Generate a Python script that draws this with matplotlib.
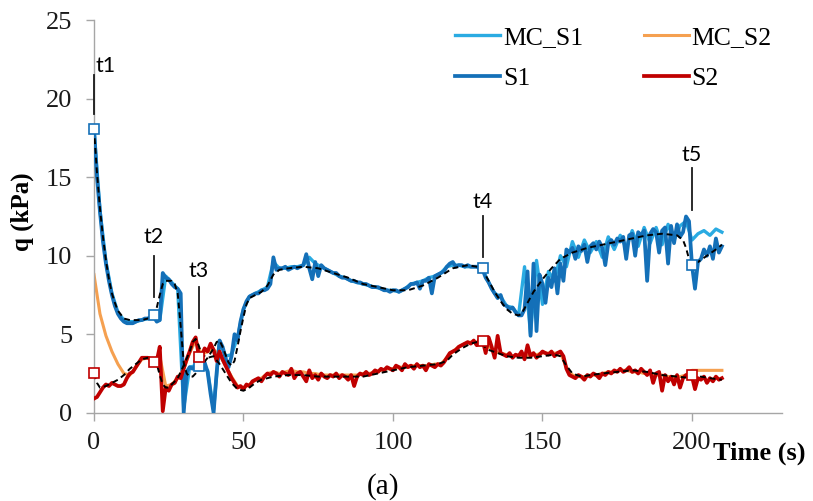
import numpy as np
import matplotlib
matplotlib.use("Agg")
import matplotlib.pyplot as plt

# ----------------------------------------------------
# Data
# ----------------------------------------------------

# measured signals, one value per second, 0 ... 210 s
time_s = np.arange(0, 211)

s1 = [
    18.1, 15.0, 12.8, 10.9, 9.5, 8.4, 7.5, 6.8, 6.3, 6.0,
    5.8, 5.7, 5.7, 5.7, 5.8, 5.9, 5.9, 6.0, 6.0, 6.1,
    6.1, 5.8, 5.9, 8.9, 8.6, 8.5, 8.2, 8.0, 7.9, 7.6,
    0.0, 2.6, 2.9, 2.8, 3.0, 3.0, 2.8, 3.2, 2.6, 1.2,
    0.0, 2.5, 4.6, 4.2, 3.5, 2.9, 3.6, 5.0, 4.6, 5.8,
    6.6, 7.1, 7.4, 7.5, 7.6, 7.6, 7.8, 7.8, 7.9, 8.2,
    9.9, 9.1, 9.2, 9.2, 9.3, 9.1, 9.2, 9.3, 9.2, 9.3,
    9.4, 10.1, 9.2, 8.5, 9.6, 8.7, 9.4, 9.2, 9.1, 9.0,
    8.9, 8.9, 8.7, 8.6, 8.6, 8.5, 8.4, 8.4, 8.3, 8.3,
    8.2, 8.2, 8.1, 8.0, 8.0, 8.0, 7.9, 7.8, 7.8, 7.7,
    7.8, 7.8, 7.7, 7.8, 7.9, 8.0, 8.2, 8.2, 8.3, 7.9,
    8.4, 8.4, 8.6, 7.6, 8.7, 8.8, 8.9, 9.0, 9.3, 9.5,
    9.6, 9.3, 9.4, 9.4, 9.3, 9.4, 9.3, 9.3, 9.3, 9.2,
    9.1, 8.6, 8.3, 7.9, 7.6, 7.3, 7.5, 6.9, 6.8, 6.6,
    6.7, 6.4, 6.2, 6.2, 6.6, 9.0, 4.9, 9.5, 5.2, 8.8,
    8.2, 7.0, 8.6, 8.0, 9.2, 7.6, 9.5, 8.4, 10.4, 10.2,
    10.5, 9.8, 10.6, 10.3, 10.7, 9.6, 10.6, 10.8, 10.4, 10.9,
    10.5, 9.4, 10.8, 11.0, 10.7, 11.1, 10.9, 11.2, 9.8, 11.3,
    11.4, 10.0, 11.5, 11.3, 11.6, 8.4, 11.4, 11.7, 11.5, 10.2,
    11.6, 11.8, 9.5, 11.9, 10.8, 12.0, 11.2, 11.5, 12.5, 12.2,
    9.4, 7.9, 9.6, 9.8, 10.4, 10.0, 10.6, 9.8, 11.1, 10.2,
    10.6,
]

s2 = [
    0.9, 1.0, 1.3, 1.6, 1.8, 1.7, 1.9, 1.8, 1.7, 1.7,
    1.8, 2.2, 2.5, 2.6, 2.9, 3.2, 3.5, 3.5, 3.5, 3.4,
    3.4, 3.3, 4.2, 0.1, 1.6, 1.4, 1.8, 1.9, 2.3, 2.2,
    2.8, 3.4, 3.9, 4.5, 4.8, 3.7, 3.6, 4.1, 3.9, 4.4,
    4.0, 3.3, 3.9, 3.4, 3.0, 2.6, 2.2, 1.9, 1.6, 1.7,
    1.5, 1.8, 1.7, 2.0, 2.1, 2.2, 2.0, 2.3, 2.5, 2.4,
    2.6, 2.5, 2.3, 2.6, 2.5, 2.4, 2.8, 2.2, 2.5, 2.6,
    2.3, 2.0, 2.7, 2.2, 2.4, 2.1, 2.5, 2.3, 2.2, 2.4,
    2.3, 2.5, 2.2, 2.4, 2.3, 2.1, 2.4, 1.7, 2.3, 2.5,
    2.4, 2.6, 2.4, 2.5, 2.7, 2.6, 2.8, 2.7, 2.9, 2.8,
    2.7, 3.0, 2.9, 2.7, 3.1, 2.9, 3.0, 2.8, 3.1, 2.9,
    3.0, 2.7, 3.1, 3.0, 2.9, 3.1, 3.0, 3.2, 3.5, 3.8,
    3.9, 4.0, 4.2, 4.3, 4.4, 4.5, 4.4, 4.6, 4.3, 4.7,
    4.6, 3.8, 4.8, 4.2, 3.5, 4.9, 3.8, 3.7, 3.6, 3.8,
    3.5, 3.7, 3.6, 3.9, 3.4, 4.3, 3.6, 3.8, 3.5, 3.7,
    3.9, 3.8, 3.7, 3.9, 3.6, 3.8, 3.9, 3.6, 2.8, 2.4,
    2.3, 2.2, 2.4, 2.3, 2.1, 2.4, 2.3, 2.5, 2.4, 2.2,
    2.5, 2.4, 2.6, 2.5, 2.7, 2.6, 2.8, 2.6, 2.7, 2.9,
    2.6, 2.7, 2.5, 2.8, 2.6, 2.4, 2.7, 1.9, 2.5, 2.6,
    1.4, 2.4, 2.0, 2.3, 1.8, 2.4, 1.6, 2.2, 2.4, 2.3,
    2.3, 1.5, 2.2, 2.1, 2.3, 1.9, 2.2, 2.0, 2.3, 2.1,
    2.2,
]

# model curves, every 2 s
time_mc = np.arange(0, 211, 2)

mc_s1 = [
    18.1, 12.9, 9.6, 7.6, 6.4, 5.9, 5.8, 5.8, 5.9, 6.0,
    6.1, 5.9, 8.7, 8.3, 7.9, 0.3, 2.9, 3.0, 2.9, 2.7,
    0.2, 4.5, 3.6, 3.7, 4.8, 6.6, 7.4, 7.6, 7.8, 8.0,
    9.6, 9.2, 9.2, 9.3, 9.3, 9.4, 9.9, 9.5, 9.3, 9.1,
    8.9, 8.7, 8.6, 8.4, 8.3, 8.2, 8.1, 8.0, 7.9, 7.8,
    7.8, 7.7, 7.9, 8.2, 8.3, 8.4, 8.6, 8.7, 8.9, 9.3,
    9.4, 9.4, 9.3, 9.3, 9.3, 9.1, 8.3, 7.6, 7.4, 6.8,
    6.7, 6.2, 9.3, 5.0, 9.7, 6.9, 9.0, 8.4, 10.0, 9.3,
    10.9, 9.9, 11.0, 10.2, 10.9, 9.9, 11.2, 10.4, 11.3, 10.5,
    11.6, 10.6, 11.8, 10.8, 11.8, 10.7, 12.0, 11.0, 11.9, 12.2,
    11.0, 11.4, 11.6, 11.3, 11.7, 11.5,
]

mc_s2 = [
    8.8, 6.3, 4.9, 3.9, 3.1, 2.5, 2.4, 2.9, 3.4, 3.5,
    3.4, 3.6, 1.7, 1.8, 2.2, 2.8, 3.8, 4.6, 3.7, 3.9,
    4.0, 3.7, 3.0, 2.3, 1.7, 1.6, 1.8, 2.1, 2.2, 2.5,
    2.6, 2.5, 2.6, 2.7, 2.6, 2.6, 2.5, 2.5, 2.4, 2.4,
    2.4, 2.4, 2.4, 2.4, 2.4, 2.5, 2.5, 2.6, 2.7, 2.8,
    2.8, 2.9, 2.9, 3.0, 3.0, 3.0, 3.0, 3.1, 3.1, 3.5,
    3.9, 4.2, 4.4, 4.5, 4.5, 4.5, 4.2, 3.9, 3.8, 3.7,
    3.6, 3.7, 3.6, 3.7, 3.7, 3.8, 3.8, 3.8, 3.8, 2.9,
    2.4, 2.3, 2.3, 2.4, 2.4, 2.5, 2.6, 2.6, 2.7, 2.7,
    2.6, 2.6, 2.5, 2.5, 2.4, 2.4, 2.3, 2.3, 2.3, 2.4,
    2.7, 2.7, 2.7, 2.7, 2.7, 2.7,
]

# smoothed trends (black dashed)
trend1_t = [0, 1, 2, 3, 4, 5, 6, 7, 8, 10, 12, 14, 16, 18, 20, 21, 22, 23, 24, 26,
            27, 28, 29, 30, 31, 32, 33, 34, 36, 38, 40, 41, 42, 43, 44, 45, 46, 47, 48, 49,
            50, 51, 52, 54, 56, 58, 60, 62, 65, 70, 75, 80, 85, 90, 95, 100, 105, 110, 115, 120,
            125, 128, 130, 132, 134, 136, 138, 140, 142, 143, 145, 147, 150, 153, 156, 160, 165, 170, 175, 180,
            185, 190, 195, 197, 198, 199, 200, 202, 205, 208, 210]
trend1_q = [18.1, 15.3, 13.0, 11.2, 9.7, 8.5, 7.6, 7.0, 6.5, 6.0, 5.9, 5.9, 5.9, 6.0, 6.2, 6.7, 7.5, 8.2, 8.4, 8.4,
            8.2, 7.6, 5.5, 3.2, 2.5, 2.3, 2.3, 2.5, 3.0, 3.5, 4.1, 4.5, 4.6, 4.2, 3.7, 3.2, 3.0, 3.3, 4.2, 5.2,
            6.1, 6.9, 7.3, 7.5, 7.7, 8.1, 8.8, 9.1, 9.2, 9.3, 9.2, 8.9, 8.6, 8.2, 8.0, 7.8, 7.8, 8.1, 8.6, 9.2,
            9.4, 9.3, 9.1, 8.4, 7.7, 7.1, 6.6, 6.3, 6.2, 6.3, 7.0, 7.7, 8.5, 9.2, 9.8, 10.2, 10.5, 10.7, 10.9, 11.1,
            11.3, 11.4, 11.3, 11.0, 10.5, 9.8, 9.4, 9.6, 10.0, 10.4, 10.7]

trend2_t = [0, 1, 2, 4, 6, 8, 10, 12, 14, 16, 18, 20, 21, 22, 23, 24, 25, 26, 28, 30,
            32, 33, 34, 35, 36, 38, 40, 42, 44, 46, 48, 50, 52, 54, 56, 60, 65, 70, 75, 80,
            85, 90, 95, 100, 105, 110, 115, 118, 120, 123, 126, 128, 130, 132, 135, 138, 142, 146, 150, 154,
            156, 158, 160, 163, 166, 170, 175, 180, 185, 190, 195, 200, 203, 206, 210]
trend2_q = [2.5, 1.9, 1.6, 1.7, 1.9, 2.1, 2.4, 2.8, 3.1, 3.4, 3.5, 3.4, 3.1, 2.4, 1.8, 1.6, 1.6, 1.8, 2.2, 3.0,
            3.9, 4.5, 4.7, 4.3, 3.7, 3.5, 3.6, 3.1, 2.5, 1.9, 1.5, 1.4, 1.6, 1.9, 2.1, 2.3, 2.4, 2.4, 2.3, 2.3,
            2.3, 2.3, 2.5, 2.7, 2.9, 3.0, 3.1, 3.3, 3.7, 4.1, 4.4, 4.5, 4.3, 4.0, 3.8, 3.6, 3.5, 3.5, 3.6, 3.7,
            3.6, 3.0, 2.5, 2.3, 2.4, 2.5, 2.6, 2.7, 2.6, 2.4, 2.3, 2.2, 2.3, 2.2, 2.1]

# instants t1 ... t5 and the marked values
event_names = ["t1", "t2", "t3", "t4", "t5"]
event_times = [0, 20, 35, 130, 200]
event_s1 = [18.1, 6.2, 3.0, 9.2, 9.4]
event_s2 = [2.55, 3.25, 3.55, 4.6, 2.4]

# ticks of the event lines and label heights
event_line_low = [19.0, 7.4, 5.4, 9.9, 12.9]
event_line_high = [21.5, 10.0, 8.0, 12.5, 15.6]
event_label_y = [22.1, 11.2, 9.05, 13.4, 16.4]

# ----------------------------------------------------
# Figure
# ----------------------------------------------------

serif = "Liberation Serif"
sans = "Lato"

fig = plt.figure(figsize=(8.13, 5.01), dpi=100)
ax = fig.add_axes([0.1156, 0.1762, 0.8459, 0.7834])

ax.plot(time_mc, mc_s1, color="#2aabe2", linewidth=2.4, label="MC_S1", zorder=2)
ax.plot(time_s, s1, color="#1470b8", linewidth=2.7, label="S1", zorder=3)
ax.plot(time_mc, mc_s2, color="#f5a050", linewidth=2.2, label="MC_S2", zorder=2)
ax.plot(time_s, s2, color="#c00000", linewidth=2.7, label="S2", zorder=3)

ax.plot(trend1_t, trend1_q, color="black", linestyle=(0, (3, 2)), linewidth=1.4, zorder=4)
ax.plot(trend2_t, trend2_q, color="black", linestyle=(0, (3, 2)), linewidth=1.4, zorder=4)

ax.plot(event_times, event_s1, linestyle="none", marker="s", markersize=6.5,
        markerfacecolor="white", markeredgecolor="#1470b8", markeredgewidth=1.2,
        zorder=5, clip_on=False)
ax.plot(event_times, event_s2, linestyle="none", marker="s", markersize=6.5,
        markerfacecolor="white", markeredgecolor="#c00000", markeredgewidth=1.2,
        zorder=5, clip_on=False)

for name, t, lo, hi, ly in zip(event_names, event_times, event_line_low,
                               event_line_high, event_label_y):
    ax.plot([t, t], [lo, hi], color="#1a1a1a", linewidth=1.3, zorder=6, clip_on=False)
    if name == "t1":
        ax.text(t + 0.6, ly, name, fontsize=15.5, family=sans, ha="left", va="center")
    else:
        ax.text(t, ly, name, fontsize=15.5, family=sans, ha="center", va="center")

# ----------------------------------------------------
# Axes styling
# ----------------------------------------------------

ax.set_xlim(0, 230)
ax.set_ylim(0, 25)
ax.set_xticks([0, 50, 100, 150, 200])
ax.set_yticks([0, 5, 10, 15, 20, 25])

for side in ["top", "right"]:
    ax.spines[side].set_visible(False)
for side in ["left", "bottom"]:
    ax.spines[side].set_color("#a6a6a6")
    ax.spines[side].set_linewidth(1.0)

ax.tick_params(axis="both", direction="out", length=5.8, width=1.0, color="#a6a6a6",
               labelsize=19, labelcolor="#1a1a1a")
ax.tick_params(axis="y", pad=10)
ax.tick_params(axis="x", pad=8)
for lab in ax.get_xticklabels() + ax.get_yticklabels():
    lab.set_family(serif)

fig.text(0.027, 1 - 212 / 501, "q (kPa)", rotation=90, ha="center", va="center",
         fontsize=18, fontweight="bold", family=serif)
fig.text(713 / 813, 1 - 453 / 501, "Time (s)", ha="left", va="center",
         fontsize=19, fontweight="bold", family=serif)
fig.text(383 / 813, 1 - 487 / 501, "(a)", ha="center", va="center",
         fontsize=21, family=serif)

handles, labels = ax.get_legend_handles_labels()
order = [labels.index(k) for k in ["MC_S1", "S1", "MC_S2", "S2"]]
ax.legend([handles[i] for i in order], [labels[i] for i in order],
          ncol=2, frameon=False, loc="upper left",
          bbox_to_anchor=(455 / 813, 1 - 26 / 501), bbox_transform=fig.transFigure,
          prop={"family": serif, "size": 18.5}, handlelength=1.75, handletextpad=0.12,
          columnspacing=2.35, labelspacing=0.72, borderpad=0, borderaxespad=0)

plt.savefig("out.png", dpi=100)
plt.close()
